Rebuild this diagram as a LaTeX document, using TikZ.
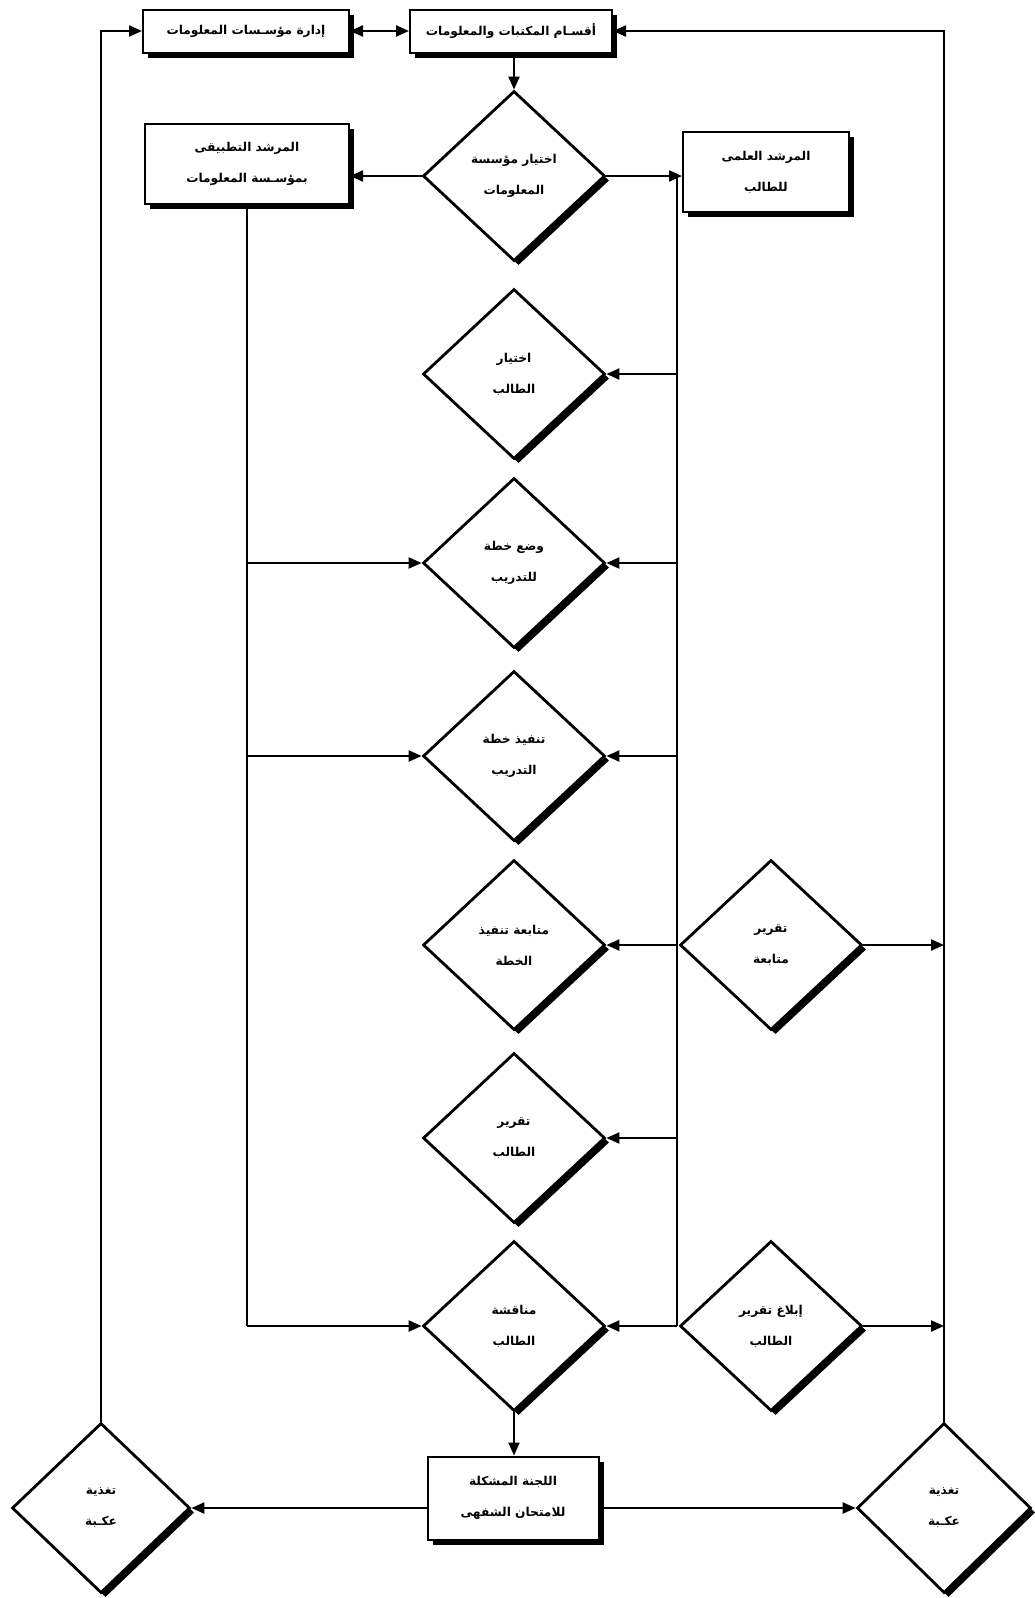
\documentclass[tikz,border=0pt]{standalone}
\usepackage{fontspec}
\newfontfamily\arabicfont[Script=Arabic]{DejaVu Sans}
\TeXXeTstate=1
\usetikzlibrary{shapes.geometric,arrows.meta,shadows,calc}
\newcommand\ar[1]{\beginR #1\endR}
\tikzset{
  base/.style={draw=black, fill=white, text=black, inner sep=0pt, align=center,
    font=\arabicfont\bfseries\fontsize{12.2}{31}\selectfont},
  boxnode/.style={base, rectangle, line width=2pt,
    drop shadow={shadow xshift=5pt, shadow yshift=-5pt, fill=black, opacity=1}},
  dianode/.style={base, diamond, line width=2.8pt, minimum width=182pt, minimum height=170pt,
    drop shadow={shadow xshift=4.5pt, shadow yshift=-4.5pt, fill=black, opacity=1}},
  conn/.style={line width=2.2pt, draw=black},
  arr/.style={conn, -{Triangle[length=13pt,width=11pt]}},
  arrtwo/.style={conn, {Triangle[length=13pt,width=11pt]}-{Triangle[length=13pt,width=11pt]}}
}
\begin{document}
\begin{tikzpicture}[x=1pt,y=-1pt]
\useasboundingbox[fill=white] (0,0) rectangle (1035,1598);

% boxes
\node[boxnode, minimum width=206pt, minimum height=43pt] (a) at (246,31) {\ar{إدارة مؤسـسات المعلومات}};
\node[boxnode, minimum width=202pt, minimum height=43pt] (b) at (511,31) {\ar{أقسـام المكتبات والمعلومات}};
\node[boxnode, minimum width=204pt, minimum height=80pt] (c) at (247,164) {\ar{المرشد التطبيقى}\\\ar{بمؤسـسة المعلومات}};
\node[boxnode, minimum width=166pt, minimum height=80pt] (d) at (766,172) {\ar{المرشد العلمى}\\\ar{للطالب}};
\node[boxnode, minimum width=171pt, minimum height=83pt] (e) at (513,1498) {\ar{اللجنة المشكلة}\\\ar{للامتحان الشفهى}};

% main column diamonds
\node[dianode] (d1) at (514,176) {\ar{اختيار مؤسسة}\\\ar{المعلومات}};
\node[dianode] (d2) at (514,374) {\ar{اختيار}\\\ar{الطالب}};
\node[dianode] (d3) at (514,563) {\ar{وضع خطة}\\\ar{للتدريب}};
\node[dianode] (d4) at (514,756) {\ar{تنفيذ خطة}\\\ar{التدريب}};
\node[dianode] (d5) at (514,945) {\ar{متابعة تنفيذ}\\\ar{الخطة}};
\node[dianode] (d6) at (514,1138) {\ar{تقرير}\\\ar{الطالب}};
\node[dianode] (d7) at (514,1326) {\ar{مناقشة}\\\ar{الطالب}};

% right diamonds
\node[dianode] (r1) at (771,945) {\ar{تقرير}\\\ar{متابعة}};
\node[dianode] (r2) at (771,1326) {\ar{إبلاغ تقرير}\\\ar{الطالب}};

% feedback diamonds
\node[dianode, minimum width=178pt] (fl) at (101,1508) {\ar{تغذية}\\\ar{عكـبة}};
\node[dianode, minimum width=174pt] (fr) at (944,1508) {\ar{تغذية}\\\ar{عكـبة}};

% bus coordinates
\coordinate (bustop) at (677,176);
\coordinate (busbot) at (677,1326);
\coordinate (rline) at (944,945);

% connectors
\draw[arrtwo] (a.east) -- (b.west);
\draw[arr] (b.south -| d1.north) -- (d1.north);
\draw[arr] (d1.west) -- (d1.west -| c.east);
\draw[arr] (d1.east) -- (d1.east -| d.west);
\draw[conn] (bustop) -- (busbot);
\foreach \n in {d2,d3,d4,d5,d6,d7}{
  \draw[arr] (\n.east -| bustop) -- (\n.east);
}
\draw[conn] (c.south) -- (c.south |- d7.west);
\foreach \n in {d3,d4,d7}{
  \draw[arr] (c.south |- \n.west) -- (\n.west);
}
\draw[arr] (r1.east) -- (r1.east -| rline);
\draw[arr] (r2.east) -- (r2.east -| rline);
\draw[arr] (d7.south) -- (d7.south |- e.north);
\draw[arr] (e.west |- fl.east) -- (fl.east);
\draw[arr] (e.east |- fr.west) -- (fr.west);
\draw[arr] (fl.north) |- (a.west);
\draw[arr] (fr.north) |- (b.east);
\end{tikzpicture}
\end{document}
